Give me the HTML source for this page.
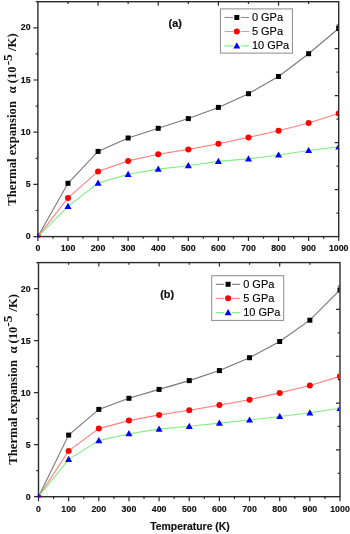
<!DOCTYPE html>
<html><head><meta charset="utf-8"><style>
html,body{margin:0;padding:0;background:#fff;}
svg{display:block;filter:blur(0.4px);}
</style></head><body>
<svg width="350" height="534" viewBox="0 0 350 534">
<rect width="350" height="534" fill="#fff"/>
<rect x="37.90" y="1.70" width="300.80" height="234.90" fill="none" stroke="#2b2b2b" stroke-width="1.4"/>
<path d="M37.90 236.60v4.5 M52.94 236.60v2.2 M67.98 236.60v4.5 M83.02 236.60v2.2 M98.06 236.60v4.5 M113.10 236.60v2.2 M128.14 236.60v4.5 M143.18 236.60v2.2 M158.22 236.60v4.5 M173.26 236.60v2.2 M188.30 236.60v4.5 M203.34 236.60v2.2 M218.38 236.60v4.5 M233.42 236.60v2.2 M248.46 236.60v4.5 M263.50 236.60v2.2 M278.54 236.60v4.5 M293.58 236.60v2.2 M308.62 236.60v4.5 M323.66 236.60v2.2 M338.70 236.60v4.5 M37.90 236.60h-4.5 M37.90 210.50h-2.2 M37.90 184.40h-4.5 M37.90 158.30h-2.2 M37.90 132.20h-4.5 M37.90 106.10h-2.2 M37.90 80.00h-4.5 M37.90 53.90h-2.2 M37.90 27.80h-4.5 M37.90 1.70h-2.2 M67.98 1.70v2.2 M98.06 1.70v4.0 M128.14 1.70v2.2 M158.22 1.70v4.0 M188.30 1.70v2.2 M218.38 1.70v4.0 M248.46 1.70v2.2 M278.54 1.70v4.0 M308.62 1.70v2.2 M338.70 213.11h-2.2 M338.70 189.62h-4.0 M338.70 166.13h-2.2 M338.70 142.64h-4.0 M338.70 119.15h-2.2 M338.70 95.66h-4.0 M338.70 72.17h-2.2 M338.70 48.68h-4.0 M338.70 25.19h-2.2" stroke="#2b2b2b" stroke-width="1.2" fill="none"/>
<clipPath id="c236"><rect x="37.30" y="1.70" width="300.80" height="235.50"/></clipPath><g clip-path="url(#c236)">
<path d="M37.90 236.60 L67.98 183.30 L98.06 151.40 L128.14 138.00 L158.22 128.30 L188.30 118.60 L218.38 107.40 L248.46 93.70 L278.54 76.50 L308.62 53.70 L338.70 28.50" stroke="#777777" stroke-width="1.1" fill="none"/>
<rect x="35.40" y="234.10" width="5" height="5" fill="#000"/>
<rect x="65.48" y="180.80" width="5" height="5" fill="#000"/>
<rect x="95.56" y="148.90" width="5" height="5" fill="#000"/>
<rect x="125.64" y="135.50" width="5" height="5" fill="#000"/>
<rect x="155.72" y="125.80" width="5" height="5" fill="#000"/>
<rect x="185.80" y="116.10" width="5" height="5" fill="#000"/>
<rect x="215.88" y="104.90" width="5" height="5" fill="#000"/>
<rect x="245.96" y="91.20" width="5" height="5" fill="#000"/>
<rect x="276.04" y="74.00" width="5" height="5" fill="#000"/>
<rect x="306.12" y="51.20" width="5" height="5" fill="#000"/>
<rect x="336.20" y="26.00" width="5" height="5" fill="#000"/>
<path d="M37.90 236.60 L67.98 197.90 L98.06 171.40 L128.14 160.90 L158.22 154.30 L188.30 149.40 L218.38 143.70 L248.46 137.40 L278.54 130.80 L308.62 123.00 L338.70 113.40" stroke="#ff8080" stroke-width="1.1" fill="none"/>
<circle cx="37.90" cy="236.60" r="3" fill="#ff0000"/>
<circle cx="67.98" cy="197.90" r="3" fill="#ff0000"/>
<circle cx="98.06" cy="171.40" r="3" fill="#ff0000"/>
<circle cx="128.14" cy="160.90" r="3" fill="#ff0000"/>
<circle cx="158.22" cy="154.30" r="3" fill="#ff0000"/>
<circle cx="188.30" cy="149.40" r="3" fill="#ff0000"/>
<circle cx="218.38" cy="143.70" r="3" fill="#ff0000"/>
<circle cx="248.46" cy="137.40" r="3" fill="#ff0000"/>
<circle cx="278.54" cy="130.80" r="3" fill="#ff0000"/>
<circle cx="308.62" cy="123.00" r="3" fill="#ff0000"/>
<circle cx="338.70" cy="113.40" r="3" fill="#ff0000"/>
<path d="M37.90 236.60 L67.98 206.40 L98.06 183.10 L128.14 174.30 L158.22 169.10 L188.30 165.70 L218.38 161.40 L248.46 158.90 L278.54 155.00 L308.62 150.50 L338.70 146.90" stroke="#80ee80" stroke-width="1.1" fill="none"/>
<path d="M37.90 233.00L41.40 239.20L34.40 239.20Z" fill="#0000ff"/>
<path d="M67.98 202.80L71.48 209.00L64.48 209.00Z" fill="#0000ff"/>
<path d="M98.06 179.50L101.56 185.70L94.56 185.70Z" fill="#0000ff"/>
<path d="M128.14 170.70L131.64 176.90L124.64 176.90Z" fill="#0000ff"/>
<path d="M158.22 165.50L161.72 171.70L154.72 171.70Z" fill="#0000ff"/>
<path d="M188.30 162.10L191.80 168.30L184.80 168.30Z" fill="#0000ff"/>
<path d="M218.38 157.80L221.88 164.00L214.88 164.00Z" fill="#0000ff"/>
<path d="M248.46 155.30L251.96 161.50L244.96 161.50Z" fill="#0000ff"/>
<path d="M278.54 151.40L282.04 157.60L275.04 157.60Z" fill="#0000ff"/>
<path d="M308.62 146.90L312.12 153.10L305.12 153.10Z" fill="#0000ff"/>
<path d="M338.70 143.30L342.20 149.50L335.20 149.50Z" fill="#0000ff"/>
</g>
<g font-family="Liberation Sans" font-weight="bold" font-size="8.8" fill="#111" stroke="#111" stroke-width="0.15"><text x="37.90" y="251.00" text-anchor="middle">0</text><text x="67.98" y="251.00" text-anchor="middle">100</text><text x="98.06" y="251.00" text-anchor="middle">200</text><text x="128.14" y="251.00" text-anchor="middle">300</text><text x="158.22" y="251.00" text-anchor="middle">400</text><text x="188.30" y="251.00" text-anchor="middle">500</text><text x="218.38" y="251.00" text-anchor="middle">600</text><text x="248.46" y="251.00" text-anchor="middle">700</text><text x="278.54" y="251.00" text-anchor="middle">800</text><text x="308.62" y="251.00" text-anchor="middle">900</text><text x="338.70" y="251.00" text-anchor="middle">1000</text><text x="30.6" y="239.10" text-anchor="end">0</text><text x="30.6" y="186.90" text-anchor="end">5</text><text x="30.6" y="134.70" text-anchor="end">10</text><text x="30.6" y="82.50" text-anchor="end">15</text><text x="30.6" y="30.30" text-anchor="end">20</text></g>
<rect x="220.40" y="8.90" width="72" height="44.2" fill="#fff" stroke="#8a8a8a" stroke-width="1"/>
<path d="M224.50 17.50H233.00M240.70 17.50H249.00" stroke="#8c8c8c" stroke-width="1.2"/>
<rect x="234.30" y="15.00" width="5" height="5" fill="#000"/>
<text x="251.90" y="20.90" font-family="Liberation Sans" font-size="11" fill="#000" stroke="#000" stroke-width="0.12">0 GPa</text>
<path d="M224.50 31.50H233.00M240.70 31.50H249.00" stroke="#ff9090" stroke-width="1.2"/>
<circle cx="236.80" cy="31.50" r="3" fill="#ff0000"/>
<text x="251.90" y="34.90" font-family="Liberation Sans" font-size="11" fill="#000" stroke="#000" stroke-width="0.12">5 GPa</text>
<path d="M224.50 45.80H233.00M240.70 45.80H249.00" stroke="#88ee88" stroke-width="1.2"/>
<path d="M236.80 42.20L240.30 48.40L233.30 48.40Z" fill="#0000ff"/>
<text x="251.90" y="49.20" font-family="Liberation Sans" font-size="11" fill="#000" stroke="#000" stroke-width="0.12">10 GPa</text>
<text x="168.6" y="26.8" font-family="Liberation Sans" font-weight="bold" font-size="10.8" fill="#111" stroke="#111" stroke-width="0.2">(a)</text>
<g transform="translate(15.9 205.7) rotate(-90)" font-family="Liberation Serif" font-weight="bold" fill="#111"><text x="0.00" y="0" font-size="12.7">Thermal expansion</text><text x="112.30" y="0" font-size="12.7">&#945;</text><text x="122.40" y="0" font-size="12.7">(10</text><text x="140.40" y="-4.3" font-size="13.3">-5</text><text x="154.70" y="0" font-size="12.7">/K)</text></g>
<rect x="38.50" y="262.60" width="301.50" height="234.10" fill="none" stroke="#2b2b2b" stroke-width="1.4"/>
<path d="M38.50 496.70v4.5 M53.58 496.70v2.2 M68.65 496.70v4.5 M83.72 496.70v2.2 M98.80 496.70v4.5 M113.88 496.70v2.2 M128.95 496.70v4.5 M144.02 496.70v2.2 M159.10 496.70v4.5 M174.18 496.70v2.2 M189.25 496.70v4.5 M204.33 496.70v2.2 M219.40 496.70v4.5 M234.47 496.70v2.2 M249.55 496.70v4.5 M264.62 496.70v2.2 M279.70 496.70v4.5 M294.77 496.70v2.2 M309.85 496.70v4.5 M324.93 496.70v2.2 M340.00 496.70v4.5 M38.50 496.70h-4.5 M38.50 470.69h-2.2 M38.50 444.68h-4.5 M38.50 418.66h-2.2 M38.50 392.65h-4.5 M38.50 366.64h-2.2 M38.50 340.62h-4.5 M38.50 314.61h-2.2 M38.50 288.60h-4.5 M38.50 262.59h-2.2 M68.65 262.60v2.2 M98.80 262.60v4.0 M128.95 262.60v2.2 M159.10 262.60v4.0 M189.25 262.60v2.2 M219.40 262.60v4.0 M249.55 262.60v2.2 M279.70 262.60v4.0 M309.85 262.60v2.2 M340.00 473.29h-2.2 M340.00 449.88h-4.0 M340.00 426.47h-2.2 M340.00 403.06h-4.0 M340.00 379.65h-2.2 M340.00 356.24h-4.0 M340.00 332.83h-2.2 M340.00 309.42h-4.0 M340.00 286.01h-2.2" stroke="#2b2b2b" stroke-width="1.2" fill="none"/>
<clipPath id="c496"><rect x="37.90" y="262.60" width="301.50" height="234.70"/></clipPath><g clip-path="url(#c496)">
<path d="M38.50 496.70 L68.65 435.10 L98.80 409.40 L128.95 398.30 L159.10 389.40 L189.25 380.60 L219.40 370.60 L249.55 357.70 L279.70 341.50 L309.85 320.20 L340.00 290.00" stroke="#777777" stroke-width="1.1" fill="none"/>
<rect x="36.00" y="494.20" width="5" height="5" fill="#000"/>
<rect x="66.15" y="432.60" width="5" height="5" fill="#000"/>
<rect x="96.30" y="406.90" width="5" height="5" fill="#000"/>
<rect x="126.45" y="395.80" width="5" height="5" fill="#000"/>
<rect x="156.60" y="386.90" width="5" height="5" fill="#000"/>
<rect x="186.75" y="378.10" width="5" height="5" fill="#000"/>
<rect x="216.90" y="368.10" width="5" height="5" fill="#000"/>
<rect x="247.05" y="355.20" width="5" height="5" fill="#000"/>
<rect x="277.20" y="339.00" width="5" height="5" fill="#000"/>
<rect x="307.35" y="317.70" width="5" height="5" fill="#000"/>
<rect x="337.50" y="287.50" width="5" height="5" fill="#000"/>
<path d="M38.50 496.70 L68.65 450.90 L98.80 428.60 L128.95 420.60 L159.10 414.90 L189.25 410.30 L219.40 405.10 L249.55 399.70 L279.70 392.90 L309.85 385.50 L340.00 376.30" stroke="#ff8080" stroke-width="1.1" fill="none"/>
<circle cx="38.50" cy="496.70" r="3" fill="#ff0000"/>
<circle cx="68.65" cy="450.90" r="3" fill="#ff0000"/>
<circle cx="98.80" cy="428.60" r="3" fill="#ff0000"/>
<circle cx="128.95" cy="420.60" r="3" fill="#ff0000"/>
<circle cx="159.10" cy="414.90" r="3" fill="#ff0000"/>
<circle cx="189.25" cy="410.30" r="3" fill="#ff0000"/>
<circle cx="219.40" cy="405.10" r="3" fill="#ff0000"/>
<circle cx="249.55" cy="399.70" r="3" fill="#ff0000"/>
<circle cx="279.70" cy="392.90" r="3" fill="#ff0000"/>
<circle cx="309.85" cy="385.50" r="3" fill="#ff0000"/>
<circle cx="340.00" cy="376.30" r="3" fill="#ff0000"/>
<path d="M38.50 496.70 L68.65 459.40 L98.80 440.60 L128.95 433.70 L159.10 429.10 L189.25 426.30 L219.40 423.10 L249.55 420.00 L279.70 416.50 L309.85 412.80 L340.00 408.30" stroke="#80ee80" stroke-width="1.1" fill="none"/>
<path d="M38.50 493.10L42.00 499.30L35.00 499.30Z" fill="#0000ff"/>
<path d="M68.65 455.80L72.15 462.00L65.15 462.00Z" fill="#0000ff"/>
<path d="M98.80 437.00L102.30 443.20L95.30 443.20Z" fill="#0000ff"/>
<path d="M128.95 430.10L132.45 436.30L125.45 436.30Z" fill="#0000ff"/>
<path d="M159.10 425.50L162.60 431.70L155.60 431.70Z" fill="#0000ff"/>
<path d="M189.25 422.70L192.75 428.90L185.75 428.90Z" fill="#0000ff"/>
<path d="M219.40 419.50L222.90 425.70L215.90 425.70Z" fill="#0000ff"/>
<path d="M249.55 416.40L253.05 422.60L246.05 422.60Z" fill="#0000ff"/>
<path d="M279.70 412.90L283.20 419.10L276.20 419.10Z" fill="#0000ff"/>
<path d="M309.85 409.20L313.35 415.40L306.35 415.40Z" fill="#0000ff"/>
<path d="M340.00 404.70L343.50 410.90L336.50 410.90Z" fill="#0000ff"/>
</g>
<g font-family="Liberation Sans" font-weight="bold" font-size="8.8" fill="#111" stroke="#111" stroke-width="0.15"><text x="38.50" y="511.70" text-anchor="middle">0</text><text x="68.65" y="511.70" text-anchor="middle">100</text><text x="98.80" y="511.70" text-anchor="middle">200</text><text x="128.95" y="511.70" text-anchor="middle">300</text><text x="159.10" y="511.70" text-anchor="middle">400</text><text x="189.25" y="511.70" text-anchor="middle">500</text><text x="219.40" y="511.70" text-anchor="middle">600</text><text x="249.55" y="511.70" text-anchor="middle">700</text><text x="279.70" y="511.70" text-anchor="middle">800</text><text x="309.85" y="511.70" text-anchor="middle">900</text><text x="340.00" y="511.70" text-anchor="middle">1000</text><text x="30.6" y="499.80" text-anchor="end">0</text><text x="30.6" y="447.78" text-anchor="end">5</text><text x="30.6" y="395.75" text-anchor="end">10</text><text x="30.6" y="343.73" text-anchor="end">15</text><text x="30.6" y="291.70" text-anchor="end">20</text></g>
<rect x="211.70" y="275.70" width="72" height="44.7" fill="#fff" stroke="#8a8a8a" stroke-width="1"/>
<path d="M215.80 284.30H224.30M232.00 284.30H240.30" stroke="#8c8c8c" stroke-width="1.2"/>
<rect x="225.60" y="281.80" width="5" height="5" fill="#000"/>
<text x="243.20" y="287.70" font-family="Liberation Sans" font-size="11" fill="#000" stroke="#000" stroke-width="0.12">0 GPa</text>
<path d="M215.80 298.30H224.30M232.00 298.30H240.30" stroke="#ff9090" stroke-width="1.2"/>
<circle cx="228.10" cy="298.30" r="3" fill="#ff0000"/>
<text x="243.20" y="301.70" font-family="Liberation Sans" font-size="11" fill="#000" stroke="#000" stroke-width="0.12">5 GPa</text>
<path d="M215.80 312.60H224.30M232.00 312.60H240.30" stroke="#88ee88" stroke-width="1.2"/>
<path d="M228.10 309.00L231.60 315.20L224.60 315.20Z" fill="#0000ff"/>
<text x="243.20" y="316.00" font-family="Liberation Sans" font-size="11" fill="#000" stroke="#000" stroke-width="0.12">10 GPa</text>
<text x="160.2" y="298.4" font-family="Liberation Sans" font-weight="bold" font-size="10.8" fill="#111" stroke="#111" stroke-width="0.2">(b)</text>
<g transform="translate(16.7 464.7) rotate(-90)" font-family="Liberation Serif" font-weight="bold" fill="#111"><text x="0.00" y="0" font-size="12.7">Thermal expansion</text><text x="111.12" y="0" font-size="12.7">&#945;</text><text x="121.11" y="0" font-size="12.7">(10</text><text x="137.94" y="-4.3" font-size="13.3">-5</text><text x="153.08" y="0" font-size="12.7">/K)</text></g>
<text x="190" y="529.9" text-anchor="middle" font-family="Liberation Sans" font-weight="bold" font-size="10.4" fill="#111" stroke="#111" stroke-width="0.15">Temperature (K)</text>
</svg>
</body></html>
